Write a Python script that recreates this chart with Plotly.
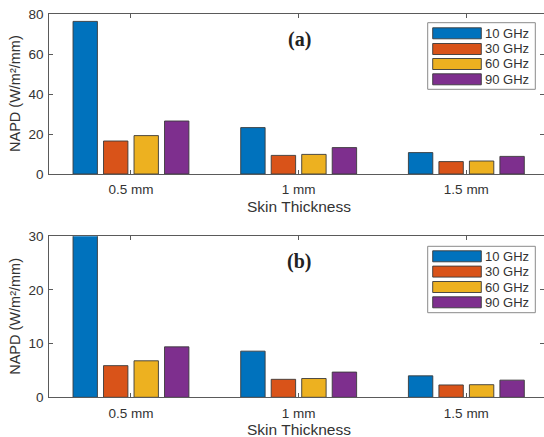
import plotly.graph_objects as go

W, H = 544, 437

categories = ["0.5 mm", "1 mm", "1.5 mm"]
series_names = ["10 GHz", "30 GHz", "60 GHz", "90 GHz"]
colors = ["#0072BD", "#D95319", "#EDB120", "#7E2F8E"]

# (a) values
napd_a_10 = [76.3, 23.2, 10.7]
napd_a_30 = [16.5, 9.3, 6.2]
napd_a_60 = [19.2, 9.8, 6.5]
napd_a_90 = [26.5, 13.2, 8.8]
# (b) values
napd_b_10 = [31.5, 8.6, 4.0]
napd_b_30 = [5.9, 3.35, 2.3]
napd_b_60 = [6.8, 3.5, 2.35]
napd_b_90 = [9.4, 4.7, 3.2]

yticks_a = [0, 20, 40, 60, 80]
yticks_b = [0, 10, 20, 30]

data_a = [napd_a_10, napd_a_30, napd_a_60, napd_a_90]
data_b = [napd_b_10, napd_b_30, napd_b_60, napd_b_90]

FONT = "Liberation Sans, Arial, sans-serif"
TXT = "#333333"
AX = "#5a5a5a"

def px(x):
    return x / W

def py(y):
    return 1 - y / H

fig = go.Figure()
for i, (name, col) in enumerate(zip(series_names, colors)):
    fig.add_trace(go.Bar(x=categories, y=data_a[i], name=name, marker=dict(color=col, line=dict(color="#3a3a3a", width=0.9)),
                         xaxis="x", yaxis="y", showlegend=False))
    fig.add_trace(go.Bar(x=categories, y=data_b[i], name=name, marker=dict(color=col, line=dict(color="#3a3a3a", width=0.9)),
                         xaxis="x2", yaxis="y2", showlegend=False))

xcommon = dict(type="category", range=[-0.487, 2.463], domain=[px(49.3), 1.0], showline=True, linecolor=AX, linewidth=1,
               mirror="ticks", ticks="inside", ticklen=4, tickcolor=AX, tickfont=dict(family=FONT, size=13.5, color=TXT),
               ticklabelstandoff=3,
               showgrid=False, zeroline=False, automargin=False, fixedrange=True)
ycommon = dict(showline=True, linecolor=AX, linewidth=1, mirror="ticks", ticks="inside", ticklen=4, tickcolor=AX,
               tickfont=dict(family=FONT, size=13.5, color=TXT), ticklabelstandoff=2,
               showgrid=False, zeroline=False, automargin=False)

fig.update_layout(
    width=W, height=H, margin=dict(l=0, r=0, t=0, b=0),
    paper_bgcolor="white", plot_bgcolor="white",
    barmode="group", bargap=0.2725, bargroupgap=0.2,
    xaxis=dict(**xcommon, anchor="y"),
    yaxis=dict(**ycommon, domain=[py(174), py(14)], range=[0, 80], tickvals=yticks_a, anchor="x"),
    xaxis2=dict(**xcommon, anchor="y2"),
    yaxis2=dict(**ycommon, domain=[py(397.3), py(236.3)], range=[0, 30], tickvals=yticks_b, anchor="x2"),
    showlegend=False,
)

annotations = []
shapes = []

def ann(text, x, y, size, family=FONT, color=TXT, angle=0, xanchor="center"):
    return dict(text=text, x=px(x), y=py(y), xref="paper", yref="paper", xanchor=xanchor, yanchor="middle",
                textangle=angle, showarrow=False, font=dict(family=family, size=size, color=color))

for (ytop, ybot, label, leg_top, leg_bot, rows) in [
    (14, 174, "(a)", 22.7, 89.3, [33.3, 49.0, 64.0, 79.3]),
    (236.3, 397.3, "(b)", 246.3, 312.7, [256.3, 271.6, 287.0, 302.3]),
]:
    annotations.append(ann("NAPD (W/m²/mm)", 15, (ytop + ybot) / 2, 14.5, angle=-90))
    annotations.append(ann("Skin Thickness", 298.5, ybot + 32, 15.5))
    annotations.append(ann("<b>" + label + "</b>", 299, ytop + 25, 20,
                           family="Liberation Serif, Times New Roman, serif", color="#222"))
    shapes.append(dict(type="rect", xref="paper", yref="paper", x0=px(427.7), x1=px(535.3), y0=py(leg_bot), y1=py(leg_top),
                       line=dict(color="#8a8a8a", width=1), fillcolor="white", layer="above"))
    for name, col, yc in zip(series_names, colors, rows):
        shapes.append(dict(type="rect", xref="paper", yref="paper", x0=px(432.7), x1=px(481.3),
                           y0=py(yc + 5.5), y1=py(yc - 5.5), line=dict(color="#3a3a3a", width=0.9), fillcolor=col, layer="above"))
        annotations.append(ann(name, 482.5, yc, 13, xanchor="left"))

fig.update_layout(annotations=annotations, shapes=shapes)
fig.write_html("out.html")
